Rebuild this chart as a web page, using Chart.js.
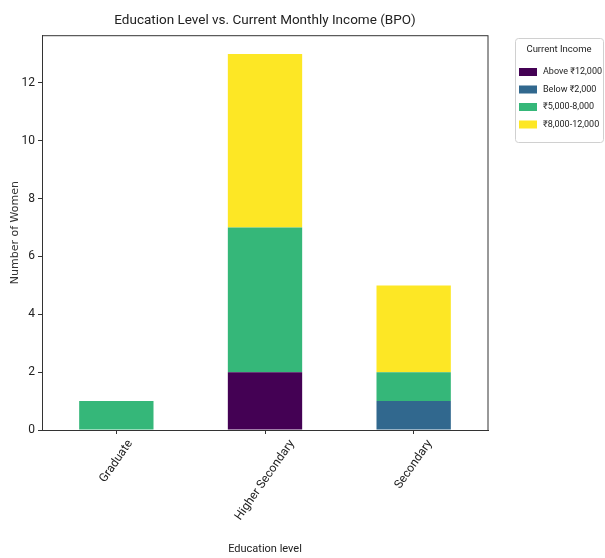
<!DOCTYPE html>
<html>
<head>
<meta charset="utf-8">
<script src="https://cdn.jsdelivr.net/npm/chart.js@4.4.0/dist/chart.umd.min.js"></script>
<style>
  body { margin: 0; background: #fff; }
  #wrap { width: 605px; height: 558px; }
</style>
</head>
<body>
<div id="wrap"><canvas id="incomeChart" width="605" height="558"></canvas></div>
<script>
// --- data ---
const categories = ['Graduate', 'Higher Secondary', 'Secondary'];
const incomeGroups = ['Above ₹12,000', 'Below ₹2,000', '₹5,000-8,000', '₹8,000-12,000'];
const above12k = [0, 2, 0];
const below2k = [0, 0, 1];
const from5to8k = [1, 5, 1];
const from8to12k = [0, 6, 3];
const yTicks = [0, 2, 4, 6, 8, 10, 12];

const groupColors = ['#440154', '#31688e', '#35b779', '#fde725'];
const FONT = 'Roboto, "Open Sans", sans-serif';

// matplotlib-ish frame: top and right spines
const framePlugin = {
    id: 'frame',
    afterDraw(chart) {
        const { ctx, chartArea: a } = chart;
        ctx.save();
        ctx.strokeStyle = '#333';
        ctx.lineWidth = 1;
        ctx.strokeRect(a.left + 0.5, a.top + 0.5, a.right - a.left - 0.5, a.bottom - a.top);
        ctx.restore();
    }
};

// x tick labels, rotated and centred on the tick like matplotlib
const xLabelPlugin = {
    id: 'xLabels',
    afterDraw(chart) {
        const { ctx } = chart;
        const xScale = chart.scales.x;
        const angle = 55 * Math.PI / 180;
        const size = 12;
        ctx.save();
        ctx.font = size + 'px ' + FONT;
        ctx.fillStyle = '#222';
        ctx.textAlign = 'center';
        ctx.textBaseline = 'middle';
        xScale.ticks.forEach((t, i) => {
            const label = categories[i];
            const w = ctx.measureText(label).width;
            const vExtent = w * Math.sin(angle) + size * Math.cos(angle);
            const x = xScale.getPixelForTick(i);
            const y = chart.chartArea.bottom + 8 + vExtent / 2;
            ctx.save();
            ctx.translate(x, y);
            ctx.rotate(-angle);
            ctx.fillText(label, 0, 0);
            ctx.restore();
        });
        ctx.restore();
    }
};

// legend box at the upper right, outside the axes
const legendPlugin = {
    id: 'boxLegend',
    afterDraw(chart) {
        const { ctx } = chart;
        const left = 515, top = 38, width = 88, height = 104;
        ctx.save();
        ctx.strokeStyle = '#d0d0d0';
        ctx.lineWidth = 1;
        ctx.beginPath();
        ctx.roundRect(left + 0.5, top + 0.5, width, height, 3);
        ctx.stroke();
        ctx.fillStyle = '#222';
        ctx.font = '9.5px ' + FONT;
        ctx.textAlign = 'center';
        ctx.textBaseline = 'middle';
        ctx.fillText('Current Income', left + width / 2, top + 12);
        ctx.textAlign = 'left';
        ctx.font = '9px ' + FONT;
        chart.data.datasets.forEach((ds, i) => {
            const y = top + 34 + i * 17.5;
            ctx.fillStyle = ds.backgroundColor;
            ctx.fillRect(left + 4, y - 4, 18, 8);
            ctx.fillStyle = '#222';
            ctx.fillText(ds.label, left + 28, y);
        });
        ctx.restore();
    }
};

const ctx = document.getElementById('incomeChart').getContext('2d');
new Chart(ctx, {
    type: 'bar',
    data: {
        labels: categories,
        datasets: [above12k, below2k, from5to8k, from8to12k].map((vals, i) => ({
            label: incomeGroups[i],
            data: vals,
            backgroundColor: groupColors[i],
            borderWidth: 0,
            categoryPercentage: 1,
            barPercentage: 0.5
        }))
    },
    options: {
        responsive: false,
        animation: false,
        layout: { padding: { top: 0, right: 117, bottom: 2, left: 0 } },
        plugins: {
            legend: { display: false },
            tooltip: { enabled: false },
            title: {
                display: true,
                fullSize: false,
                text: 'Education Level vs. Current Monthly Income (BPO)',
                color: '#222',
                font: { family: FONT, size: 13.5, weight: 'normal' },
                padding: { top: 13, bottom: 6 }
            }
        },
        scales: {
            x: {
                stacked: true,
                grid: { display: true, drawOnChartArea: false, offset: false, tickLength: 4, color: '#333' },
                border: { display: true, color: '#333' },
                ticks: { color: 'rgba(0,0,0,0)', minRotation: 55, maxRotation: 55, font: { family: FONT, size: 12 } },
                title: {
                    display: true,
                    text: 'Education level',
                    color: '#222',
                    font: { family: FONT, size: 11 },
                    padding: 0
                },
                afterFit(scale) { scale.height = 126; }
            },
            y: {
                stacked: true,
                min: 0,
                max: 13.65,
                afterBuildTicks(scale) { scale.ticks = yTicks.map(v => ({ value: v })); },
                grid: { display: true, drawOnChartArea: false, tickLength: 4, color: '#333' },
                border: { display: true, color: '#333' },
                ticks: { color: '#222', padding: 3, font: { family: FONT, size: 12 } },
                title: {
                    display: true,
                    text: 'Number of Women',
                    color: '#333',
                    font: { family: '"DejaVu Sans", sans-serif', size: 11 },
                    padding: { top: 9, bottom: 0 }
                },
                afterFit(scale) { scale.width = 42; }
            }
        }
    },
    plugins: [framePlugin, xLabelPlugin, legendPlugin]
});
</script>
</body>
</html>
